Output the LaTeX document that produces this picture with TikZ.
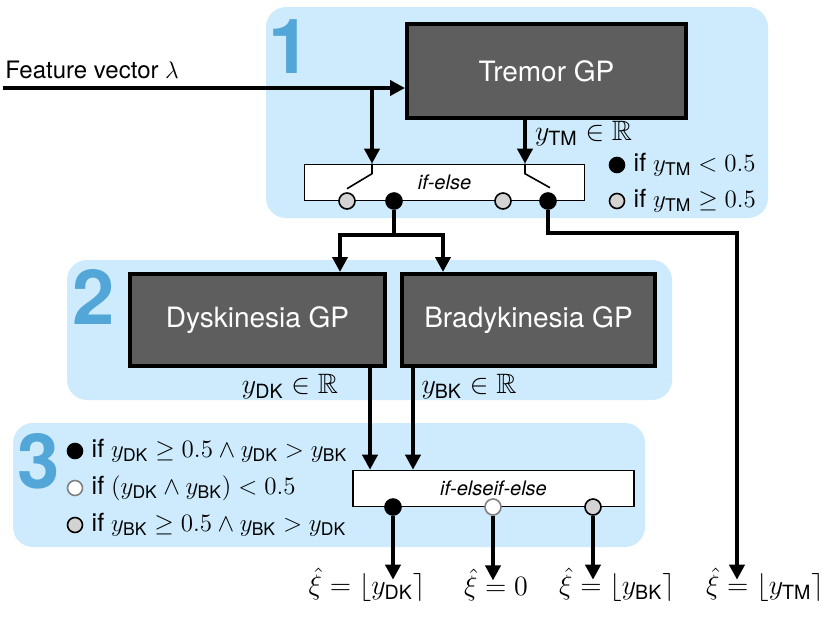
\documentclass[tikz,border=0pt]{standalone}
\usepackage{fix-cm}
\usepackage{amsmath,amssymb}
\usepackage[no-math]{fontspec}
\setmainfont{TeX Gyre Heros}
\usetikzlibrary{arrows.meta}

\definecolor{panelblue}{RGB}{205,235,252}
\definecolor{numblue}{RGB}{82,167,216}
\definecolor{boxgray}{RGB}{94,94,94}
\definecolor{dotgrayfill}{RGB}{211,211,211}

\newcommand{\ysub}[1]{y_{\text{#1}}}

\tikzset{
	panel/.style={fill=panelblue, rounded corners=10pt},
	bignum/.style={text=numblue, font=\fontsize{38}{38}\selectfont\bfseries, inner sep=0pt},
	gpbox/.style={draw=black, line width=2pt, fill=boxgray, text=white, font=\fontsize{14}{16}\selectfont},
	logicbox/.style={draw=black, line width=0.8pt, fill=white, minimum height=18pt, font=\fontsize{10}{12}\selectfont\itshape},
	switchdot/.style={circle, line width=0.8pt, minimum size=8pt, inner sep=0pt},
	dotblack/.style={switchdot, draw=black, fill=black},
	dotgray/.style={switchdot, draw=black, fill=dotgrayfill},
	dotwhite/.style={switchdot, draw=gray, fill=white},
	wire/.style={line width=2pt},
	arr/.style={line width=2pt, -{Triangle[length=7.5pt,width=7.5pt]}},
	legendtext/.style={anchor=west, inner sep=0pt, xshift=4pt, font=\fontsize{12.5}{14}\selectfont},
	outlabel/.style={inner sep=1pt, font=\fontsize{14}{16}\selectfont},
}

\begin{document}
\begin{tikzpicture}[x=0.5pt, y=-0.5pt]
			\useasboundingbox (0,0) rectangle (830,623);
			
			% panels
			\fill[panel] (266,7) rectangle (768,218);
			\fill[panel] (67,260) rectangle (672,400);
			\fill[panel] (13,423) rectangle (645,547);
			\node[bignum] (num1) at (290,47) {1};
			\node[bignum] (num2) at (94,297) {2};
			\node[bignum] (num3) at (39,461) {3};
			
			% GP models
			\node[gpbox, minimum width=139.5pt, minimum height=47pt] (tremor) at (546.5,71) {Tremor GP};
			\node[gpbox, minimum width=127.5pt, minimum height=46pt] (dysk) at (257.5,320) {Dyskinesia GP};
			\node[gpbox, minimum width=126.5pt, minimum height=46pt] (brady) at (528.5,320) {Bradykinesia GP};
			
			% decision blocks
			\node[logicbox, minimum width=140pt] (ife1) at (444.5,182.5) {if-else};
			\node[logicbox, minimum width=140.5pt] (ife2) at (493.5,488.5) {if-elseif-else};
			
			% columns of the vertical connectors
			\coordinate (fvx) at (372,88);
			\coordinate (tmx) at (525,0);
			\coordinate (dkx) at (370,0);
			\coordinate (bkx) at (413,0);
			
			% feature vector input
			\node[anchor=base west, inner sep=0pt, font=\fontsize{12}{14}\selectfont] (feat) at (5,78) {Feature vector $\lambda$};
			\coordinate (fvstart) at (3,88);
			\draw[arr] (fvstart) -- (fvstart -| tremor.west);
			\draw[arr] (fvx) -- (fvx |- ife1.north);
			
			% tremor output
			\draw[arr] (tmx |- tremor.south) -- (tmx |- ife1.north);
			\node[anchor=west, font=\fontsize{14}{16}\selectfont] (ytm) at (528,134) {$\ysub{TM} \in \mathbb{R}$};
			
			% switches
			\draw[line width=0.8pt] (fvx |- ife1.north) -- ++(0,10) -- ++(-25,15);
			\draw[line width=0.8pt] (tmx |- ife1.north) -- ++(0,10) -- ++(25,14);
			\node[dotgray]  (s1) at (347,201) {};
			\node[dotblack] (s2) at (394,201) {};
			\node[dotgray]  (s3) at (503,201) {};
			\node[dotblack] (s4) at (548,201) {};
			
			% legend of stage 1
			\node[dotblack, minimum size=7.5pt] (l1) at (617,165) {};
			\node[legendtext] at (l1.east) {if $\ysub{TM} < 0.5$};
			\node[dotgray, minimum size=7.5pt] (l2) at (617,201) {};
			\node[legendtext] at (l2.east) {if $\ysub{TM} \geq 0.5$};
			
			% to stage 2
			\coordinate (split) at (394,235);
			\draw[wire] (s2) -- (split);
			\draw[arr] (split) -| ([xshift=41.25pt]dysk.north);
			\draw[arr] (split) -| ([xshift=-42.75pt]brady.north);
			
			% stage 2 outputs
			\draw[arr] (dkx |- dysk.south) -- (dkx |- ife2.north);
			\draw[arr] (bkx |- brady.south) -- (bkx |- ife2.north);
			\node[font=\fontsize{14}{16}\selectfont] (ydk) at (290,387) {$\ysub{DK} \in \mathbb{R}$};
			\node[font=\fontsize{14}{16}\selectfont] (ybk) at (469,387) {$\ysub{BK} \in \mathbb{R}$};
			
			% legend of stage 3
			\node[dotblack, minimum size=7.5pt] (m1) at (75,451) {};
			\node[legendtext] at (m1.east) {if $\ysub{DK} \geq 0.5 \land \ysub{DK} > \ysub{BK}$};
			\node[dotwhite, minimum size=7.5pt] (m2) at (75,488) {};
			\node[legendtext] at (m2.east) {if $(\ysub{DK} \land \ysub{BK}) < 0.5$};
			\node[dotgray, minimum size=7.5pt] (m3) at (75,525) {};
			\node[legendtext] at (m3.east) {if $\ysub{BK} \geq 0.5 \land \ysub{BK} > \ysub{DK}$};
			
			% final decisions
			\node[dotblack] (c1) at (393,507) {};
			\node[dotwhite] (c2) at (493,507) {};
			\node[dotgray]  (c3) at (593,507) {};
			\node[outlabel] (outdk) at (367,585) {$\hat{\xi} = \lfloor \ysub{DK} \rceil$};
			\node[outlabel] (outzero) at (496,585) {$\hat{\xi} = 0$};
			\node[outlabel] (outbk) at (617,585) {$\hat{\xi} = \lfloor \ysub{BK} \rceil$};
			\node[outlabel] (outtm) at (765,585) {$\hat{\xi} = \lfloor \ysub{TM} \rceil$};
			\draw[arr, shorten >=-7pt] (c1) -- (c1 |- outdk.north);
			\draw[arr, shorten >=-7pt] (c2) -- (c2 |- outzero.north);
			\draw[arr, shorten >=-7pt] (c3) -- (c3 |- outbk.north);
			
			% tremor decision bypass
			\coordinate (tmturn) at (737,233);
			\draw[arr, shorten >=-7pt] (s4) |- (tmturn) -- (tmturn |- outtm.north);
			
		\end{tikzpicture}
\end{document}
